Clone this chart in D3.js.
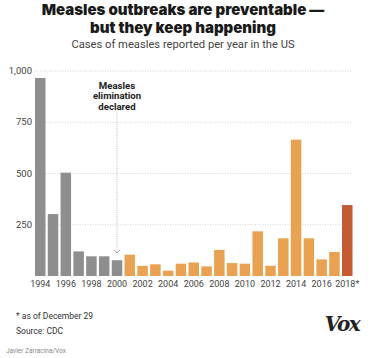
<!DOCTYPE html>
<html><head><meta charset="utf-8">
<script src="https://cdn.jsdelivr.net/npm/d3@7"></script>
<style>
html,body{margin:0;padding:0;background:#fff;}
svg{display:block;font-family:"Roboto","Liberation Sans",sans-serif;}
</style></head>
<body><svg id="c" width="370" height="358"></svg>
<script>
const years = d3.range(1994, 2019);
const cases = [966, 302, 504, 120, 96, 96, 77, 104, 49, 57, 26, 60, 66, 47, 127, 63, 60, 218, 50, 184, 665, 184, 81, 117, 346];
const yTicks = [250, 500, 750, 1000];
const xTickYears = [1994,1996,1998,2000,2002,2004,2006,2008,2010,2012,2014,2016,2018];
const eliminationYear = 2000;

const svg = d3.select("#c");
const x = d3.scaleBand().domain(years).range([35, 352.5]).paddingInner(0.18).paddingOuter(0);
const y = d3.scaleLinear().domain([0, 1000]).range([276, 71]);

function color(yr){ return yr <= 2000 ? "#8e8e8e" : (yr === 2018 ? "#c45b33" : "#e9a251"); }

// title
const titleLines = ["Measles outbreaks are preventable —", "but they keep happening"];
titleLines.forEach((s,i)=>{
  svg.append("text").attr("x",183).attr("y",15+i*17.5).attr("text-anchor","middle")
    .style("font-family","'Inter','Roboto',sans-serif").style("font-weight",900).style("font-size","15px")
    .attr("fill","#1a1a1a").text(s);
});
svg.append("text").attr("x",183).attr("y",48).attr("text-anchor","middle")
  .style("font-size","11.2px").attr("fill","#444").text("Cases of measles reported per year in the US");

// gridlines + y labels
const gy = svg.append("g");
yTicks.forEach(t=>{
  gy.append("line").attr("x1",35).attr("x2",352.5).attr("y1",y(t)).attr("y2",y(t))
    .attr("stroke","#c8c8c8").attr("stroke-width",0.8).attr("stroke-dasharray","1,1.5");
  gy.append("text").attr("x",32).attr("y",y(t)+3).attr("text-anchor","end")
    .style("font-size","9.5px").attr("fill","#444").text(d3.format(",")(t));
});

// annotation line
const ax = x(eliminationYear) + x.bandwidth()/2;
svg.append("line").attr("x1",ax).attr("x2",ax).attr("y1",113).attr("y2",252)
  .attr("stroke","#aaa").attr("stroke-width",0.8).attr("stroke-dasharray","1,1.2");
svg.append("path").attr("d",`M${ax-3},${250} L${ax},${253} L${ax+3},${250}`)
  .attr("fill","none").attr("stroke","#888").attr("stroke-width",0.8);
const ann = ["Measles","elimination","declared"];
ann.forEach((s,i)=>{
  svg.append("text").attr("x",ax).attr("y",88.5+i*10.6).attr("text-anchor","middle")
    .style("font-size","9.6px").style("font-weight",700).attr("fill","#222").text(s);
});

// bars
svg.append("g").selectAll("rect").data(years).join("rect")
  .attr("x",d=>x(d)).attr("width",x.bandwidth())
  .attr("y",(d,i)=>y(cases[i])).attr("height",(d,i)=>y(0)-y(cases[i]))
  .attr("fill",d=>color(d));

// x axis labels
svg.append("g").selectAll("text").data(xTickYears).join("text")
  .attr("x",d=>x(d)+x.bandwidth()/2).attr("y",287).attr("text-anchor","middle")
  .style("font-size","9px").attr("fill","#444")
  .text(d=> d===2018 ? "2018*" : d);

// footnotes
svg.append("text").attr("x",16).attr("y",319).style("font-size","8.5px").attr("fill","#333").text("* as of December 29");
svg.append("text").attr("x",16).attr("y",333.5).style("font-size","8.5px").attr("fill","#333").text("Source: CDC");
svg.append("text").attr("x",6).attr("y",353).style("font-size","6.5px").attr("fill","#888").text("Javier Zarracina/Vox");

// logo
svg.append("text").attr("x",342).attr("y",331).attr("text-anchor","middle")
  .style("font-family","'DejaVu Serif','Liberation Serif',serif").style("font-weight",700).style("font-style","italic")
  .style("font-size","20px").style("letter-spacing","-1.5px").attr("fill","#222").text("Vox");
</script></body></html>
